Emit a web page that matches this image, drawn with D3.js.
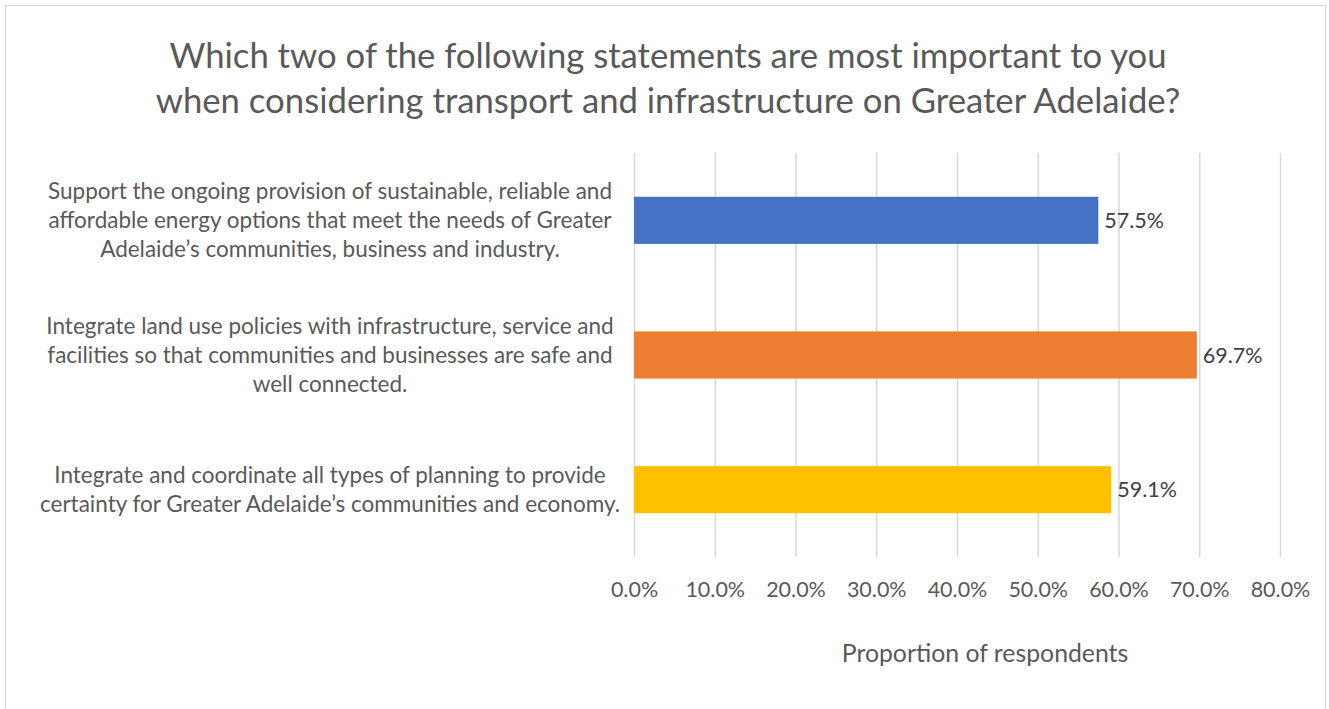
<!DOCTYPE html>
<html><head><meta charset="utf-8">
<script src="https://cdn.jsdelivr.net/npm/d3@7"></script>
<style>
html,body{margin:0;padding:0;background:#fff;}
svg{display:block;font-family:Lato, "Open Sans", sans-serif;}
</style></head>
<body>
<svg id="chart" width="1329" height="709"></svg>
<script>
const titleLines = ["Which two of the following statements are most important to you",
  "when considering transport and infrastructure on Greater Adelaide?"];
const categories = [
  ["Support the ongoing provision of sustainable, reliable and",
   "affordable energy options that meet the needs of Greater",
   "Adelaide\u2019s communities, business and industry."],
  ["Integrate land use policies with infrastructure, service and",
   "facilities so that communities and businesses are safe and",
   "well connected."],
  ["Integrate and coordinate all types of planning to provide",
   "certainty for Greater Adelaide\u2019s communities and economy."]
];
const values = [57.5, 69.7, 59.1];
const barColors = ["#4472C4", "#ED7D31", "#FFC000"];
const tickValues = [0, 10, 20, 30, 40, 50, 60, 70, 80];
const xAxisTitle = "Proportion of respondents";

const svg = d3.select("#chart");
const textColor = "#595959";

svg.append("rect").attr("x", 5.5).attr("y", 5.5).attr("width", 1320).attr("height", 720)
  .attr("fill", "#fff").attr("stroke", "#d9d9d9").attr("stroke-width", 1);

const m = {left: 634, right: 1280, top: 153, bottom: 557};
const x = d3.scaleLinear().domain([0, 80]).range([m.left, m.right]);
const y = d3.scaleBand().domain(d3.range(categories.length)).range([m.top, m.bottom]).paddingInner(0.65).paddingOuter(0.325);

// title
svg.append("g").selectAll("text").data(titleLines).join("text")
  .attr("x", 668).attr("y", (d, i) => 68 + i * 45)
  .attr("text-anchor", "middle").attr("fill", textColor)
  .style("font-size", "34.7px").text(d => d);

// gridlines via axis
const gx = svg.append("g").attr("transform", `translate(0,${m.bottom})`)
  .call(d3.axisBottom(x).tickValues(tickValues).tickSize(-(m.bottom - m.top)).tickFormat(d => d.toFixed(1) + "%"));
gx.select(".domain").remove();
gx.selectAll(".tick line").attr("stroke", "#d9d9d9").attr("stroke-width", 1.5);
gx.selectAll(".tick text").attr("fill", textColor).attr("y", 32).attr("dy", "0.35em")
  .style("font-size", "21.5px").style("font-family", "Lato, 'Open Sans', sans-serif");

// bars
svg.append("g").selectAll("rect").data(values).join("rect")
  .attr("x", x(0)).attr("y", (d, i) => y(i))
  .attr("width", d => x(d) - x(0)).attr("height", y.bandwidth())
  .attr("fill", (d, i) => barColors[i]);

// value labels
svg.append("g").selectAll("text").data(values).join("text")
  .attr("x", d => x(d) + 6).attr("y", (d, i) => y(i) + y.bandwidth() / 2)
  .attr("dy", "0.35em").attr("fill", "#404040")
  .style("font-size", "21.5px").text(d => d.toFixed(1) + "%");

// category labels
const lh = 29;
const cat = svg.append("g").selectAll("text").data(categories).join("text")
  .attr("text-anchor", "middle").attr("fill", textColor).style("font-size", "22.5px")
  .attr("transform", (d, i) => `translate(330,${y(i) + y.bandwidth() / 2 - (d.length - 1) * lh / 2})`);
cat.selectAll("tspan").data(d => d).join("tspan")
  .attr("x", 0).attr("y", (d, j) => j * lh).attr("dy", "0.35em").text(d => d);

// axis title
svg.append("text").attr("x", 985).attr("y", 662).attr("text-anchor", "middle")
  .attr("fill", textColor).style("font-size", "24.8px").text(xAxisTitle);
</script>
</body></html>
